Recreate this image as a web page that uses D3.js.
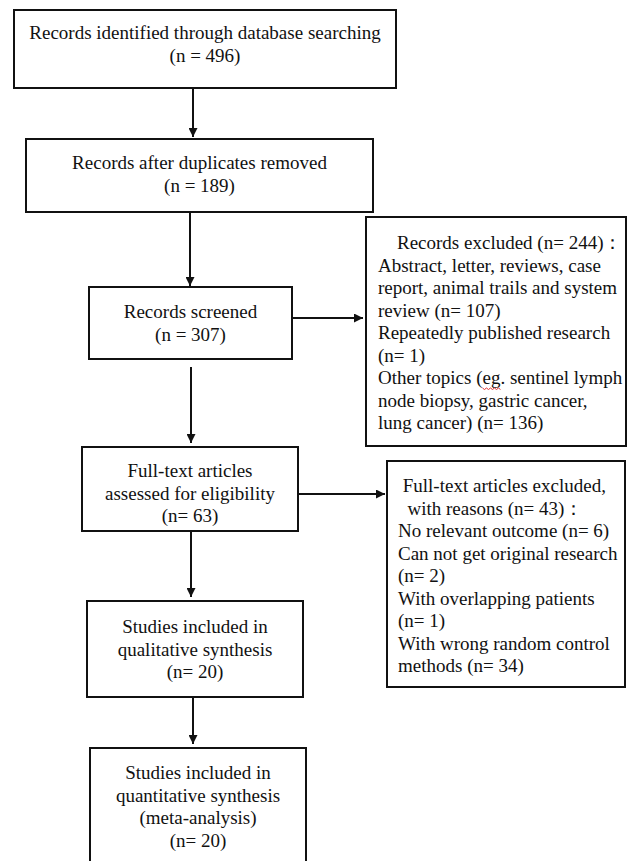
<!DOCTYPE html>
<html>
<head>
<meta charset="utf-8">
<script src="https://cdn.jsdelivr.net/npm/d3@7"></script>
<style>
  body { margin: 0; background: #fff; }
  text { font-family: "Liberation Serif", "Times New Roman", serif; font-size: 19px; fill: #111; }
</style>
</head>
<body>
<div id="vis"></div>
<script>
const WIDTH = 628;
const HEIGHT = 861;

// etapas principales (texto de cada caja)
const pasos = [
  ["Records identified through database searching", "(n = 496)"],
  ["Records after duplicates removed", "(n = 189)"],
  ["Records screened", "(n = 307)"],
  ["Full-text articles", "assessed for eligibility", "(n= 63)"],
  ["Studies included in", "qualitative synthesis", "(n= 20)"],
  ["Studies included in", "quantitative synthesis", "(meta-analysis)", "(n= 20)"]
];

// cajas de exclusión
const excluidos1 = [
  "    Records excluded (n= 244)：",
  "Abstract, letter, reviews, case",
  "report, animal trails and system",
  "review (n= 107)",
  "Repeatedly published research",
  "(n= 1)",
  "Other topics (eg. sentinel lymph",
  "node biopsy, gastric cancer,",
  "lung cancer) (n= 136)"
];
const excluidos2 = [
  " Full-text articles excluded,",
  "  with reasons (n= 43)：",
  "No relevant outcome (n= 6)",
  "Can not get original research",
  "(n= 2)",
  "With overlapping patients",
  "(n= 1)",
  "With wrong random control",
  "methods (n= 34)"
];

// geometría de las cajas (x0, x1, y0, y1) y centro de la primera línea
const cajas = [
  { x0: 14, x1: 396, y0: 10, y1: 88, t: 33 },
  { x0: 26, x1: 373, y0: 139, y1: 212, t: 163 },
  { x0: 89, x1: 292, y0: 287, y1: 359, t: 312 },
  { x0: 82, x1: 298, y0: 447, y1: 531, t: 471 },
  { x0: 87, x1: 303, y0: 601, y1: 697, t: 627 },
  { x0: 90, x1: 306, y0: 748, y1: 880, t: 773 }
];
const cajasExcl = [
  { x0: 366, x1: 626, y0: 217, y1: 446, t: 243, tx: 378, lines: excluidos1 },
  { x0: 387, x1: 625, y0: 461, y1: 687, t: 486, tx: 398, lines: excluidos2 }
];
const flechasV = [
  { x: 193, y0: 88, y1: 137 },
  { x: 190, y0: 212, y1: 286 },
  { x: 191, y0: 367, y1: 443 },
  { x: 191, y0: 531, y1: 597 },
  { x: 193, y0: 697, y1: 744 }
];
const flechasH = [
  { y: 318, x0: 292, x1: 363 },
  { y: 494, x0: 298, x1: 385 }
];
const LINEA = 22.5;

const SVG = d3.select("#vis").append("svg")
  .attr("width", WIDTH).attr("height", HEIGHT);

SVG.append("defs").append("marker")
  .attr("id", "punta")
  .attr("viewBox", "0 0 10 10")
  .attr("refX", 10).attr("refY", 5)
  .attr("markerWidth", 10).attr("markerHeight", 9)
  .attr("markerUnits", "userSpaceOnUse")
  .attr("orient", "auto")
  .append("path").attr("d", "M0,0 L10,5 L0,10 Z").attr("fill", "#111");

const boxes = SVG.selectAll("g.paso")
  .data(pasos)
  .join("g")
  .attr("class", "paso");

boxes.append("rect")
  .attr("x", (d, i) => cajas[i].x0)
  .attr("y", (d, i) => cajas[i].y0)
  .attr("width", (d, i) => cajas[i].x1 - cajas[i].x0)
  .attr("height", (d, i) => cajas[i].y1 - cajas[i].y0)
  .attr("fill", "none")
  .attr("stroke", "#111")
  .attr("stroke-width", 2);

boxes.each(function(d, i) {
  const c = cajas[i];
  d3.select(this).selectAll("text")
    .data(d)
    .join("text")
    .attr("x", (c.x0 + c.x1) / 2)
    .attr("y", (t, j) => c.t + j * LINEA + 6)
    .attr("text-anchor", "middle")
    .text(t => t);
});

const excl = SVG.selectAll("g.excl")
  .data(cajasExcl)
  .join("g")
  .attr("class", "excl");

excl.append("rect")
  .attr("x", d => d.x0)
  .attr("y", d => d.y0)
  .attr("width", d => d.x1 - d.x0)
  .attr("height", d => d.y1 - d.y0)
  .attr("fill", "none")
  .attr("stroke", "#111")
  .attr("stroke-width", 2);

excl.each(function(d) {
  d3.select(this).selectAll("text")
    .data(d.lines)
    .join("text")
    .attr("x", d.tx)
    .attr("y", (t, j) => d.t + j * LINEA + 6)
    .attr("xml:space", "preserve")
    .style("white-space", "pre")
    .text(t => t);
});

// subrayado ondulado rojo bajo "eg" (corrector ortográfico)
const lineaEg = excl.filter((d, i) => i === 0).selectAll("text").filter((t, j) => j === 6).node();
if (lineaEg) {
  const idx = lineaEg.textContent.indexOf("eg");
  const x0 = cajasExcl[0].tx + lineaEg.getSubStringLength(0, idx);
  const w = lineaEg.getSubStringLength(idx, 2);
  const y = +d3.select(lineaEg).attr("y") + 4;
  const pts = d3.range(0, Math.ceil(w / 2) + 1).map(k => [x0 + k * 2, y + (k % 2 ? 1.5 : 0)]);
  SVG.append("path")
    .attr("d", d3.line()(pts))
    .attr("fill", "none")
    .attr("stroke", "#e03030")
    .attr("stroke-width", 1);
}

SVG.selectAll("line.v")
  .data(flechasV)
  .join("line")
  .attr("class", "v")
  .attr("x1", d => d.x).attr("x2", d => d.x)
  .attr("y1", d => d.y0).attr("y2", d => d.y1)
  .attr("stroke", "#111")
  .attr("stroke-width", 2)
  .attr("marker-end", "url(#punta)");

SVG.selectAll("line.h")
  .data(flechasH)
  .join("line")
  .attr("class", "h")
  .attr("x1", d => d.x0).attr("x2", d => d.x1)
  .attr("y1", d => d.y).attr("y2", d => d.y)
  .attr("stroke", "#111")
  .attr("stroke-width", 2)
  .attr("marker-end", "url(#punta)");
</script>
</body>
</html>
